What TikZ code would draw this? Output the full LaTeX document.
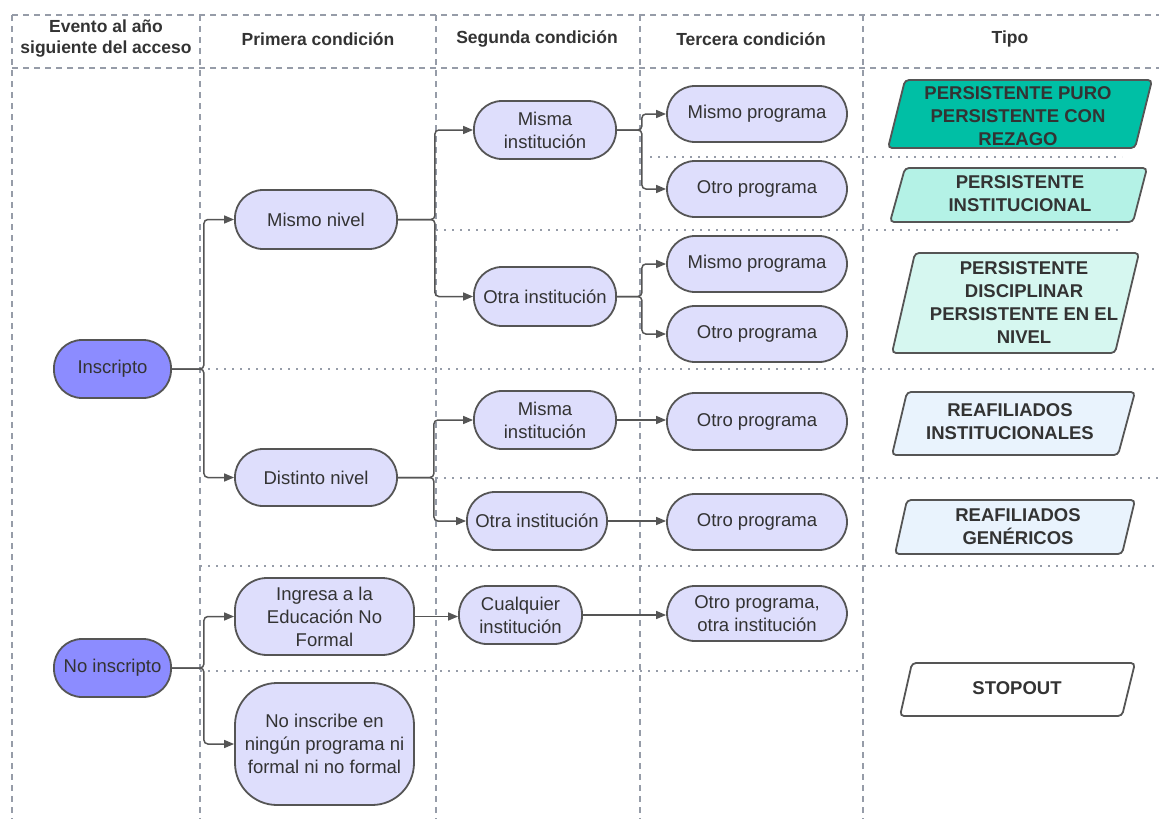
\documentclass[tikz,border=0pt]{standalone}
\usepackage{fontspec}
\setmainfont{Liberation Sans}
\usetikzlibrary{arrows.meta,calc}
\definecolor{edge}{RGB}{85,85,85}
\definecolor{txt}{RGB}{51,51,51}
\definecolor{lav}{RGB}{222,222,252}
\definecolor{strong}{RGB}{140,140,255}
\definecolor{gridc}{RGB}{150,156,168}
\definecolor{tealA}{RGB}{0,191,165}
\definecolor{tealB}{RGB}{180,242,230}
\definecolor{tealC}{RGB}{214,247,240}
\definecolor{blueL}{RGB}{233,243,253}
\begin{document}
\begin{tikzpicture}[x=1pt,y=-1pt,
  box/.style={draw=edge, line width=1.8pt, fill=lav, rounded corners=28pt, align=center,
    inner sep=0pt, text=txt, font=\fontsize{18.5}{23}\selectfont},
  conn/.style={draw=edge, line width=1.5pt, rounded corners=4pt, -{Triangle[length=10pt,width=8pt]}},
  colline/.style={draw=gridc, line width=1.5pt, dash pattern=on 6pt off 5pt},
  rowline/.style={draw=gridc, line width=1.5pt, dash pattern=on 2pt off 6pt},
  hdr/.style={font=\bfseries\fontsize{17.5}{21}\selectfont, text=txt, align=center},
  para/.style={draw=edge, line width=1.8pt, rounded corners=4pt},
  ptext/.style={font=\bfseries\fontsize{18.5}{23}\selectfont, text=txt, align=center}]
\useasboundingbox (0,0) rectangle (1159,819);
% grid
\draw[colline] (12,15) -- (1159,15);
\draw[colline] (12,68) -- (1159,68);
\foreach \x in {12,200,436,640,863} \draw[colline] (\x,15) -- (\x,819);
\draw[rowline] (650,157) -- (1122,157);
\draw[rowline] (436,230) -- (1122,230);
\draw[rowline] (200,369) -- (1159,369);
\draw[rowline] (436,478) -- (1159,478);
\draw[rowline] (200,566) -- (1159,566);
\draw[rowline] (200,671) -- (863,671);
% headers
\node[hdr] (h1) at (106,39) {Evento al año\\siguiente del acceso};
\node[hdr] (h2) at (318,39) {Primera condición};
\node[hdr] (h3) at (537,39) {Segunda condición};
\node[hdr] (h4) at (751,39) {Tercera condición};
\node[hdr] (h5) at (1010,39) {Tipo};
% nodes
\node[box, fill=strong, minimum width=117pt, minimum height=58pt] (insc) at (112.5,369) {Inscripto};
\node[box, fill=strong, minimum width=117pt, minimum height=58pt] (noinsc) at (112.5,668) {No inscripto};
\node[box, minimum width=162pt, minimum height=59pt] (mnivel) at (316,219.5) {Mismo nivel};
\node[box, minimum width=162pt, minimum height=57pt] (dnivel) at (316,477.5) {Distinto nivel};
\node[box, minimum width=179pt, minimum height=77pt, rounded corners=32pt] (ingresa) at (324.5,616.5) {Ingresa a la\\Educación No\\Formal};
\node[box, minimum width=179pt, minimum height=122pt, rounded corners=42pt] (noinscribe) at (324.5,744) {No inscribe en\\ningún programa ni\\formal ni no formal};
\node[box, minimum width=142pt, minimum height=58pt] (misma1) at (545,130) {Misma\\institución};
\node[box, minimum width=142pt, minimum height=59pt] (otra1) at (545,296.5) {Otra institución};
\node[box, minimum width=142pt, minimum height=58pt] (misma2) at (545,420) {Misma\\institución};
\node[box, minimum width=140pt, minimum height=58pt] (otra2) at (537,521) {Otra institución};
\node[box, minimum width=123pt, minimum height=58pt] (cualq) at (520.5,615) {Cualquier\\institución};
\node[box, minimum width=180pt, minimum height=56pt] (mp1) at (757,114) {Mismo programa};
\node[box, minimum width=180pt, minimum height=56pt] (op1) at (757,189) {Otro programa};
\node[box, minimum width=180pt, minimum height=56pt] (mp2) at (757,264) {Mismo programa};
\node[box, minimum width=180pt, minimum height=56pt] (op2) at (757,334) {Otro programa};
\node[box, minimum width=180pt, minimum height=57pt] (op3) at (757,421.5) {Otro programa};
\node[box, minimum width=180pt, minimum height=56pt] (op4) at (757,522) {Otro programa};
\node[box, minimum width=180pt, minimum height=55pt] (opoi) at (757,613.5) {Otro programa,\\otra institución};
% connectors
\draw[conn] (insc.east) -- ++(32,0) |- (mnivel.west);
\draw[conn] (insc.east) -- ++(32,0) |- (dnivel.west);
\draw[conn] (noinsc.east) -- ++(32,0) |- (ingresa.west);
\draw[conn] (noinsc.east) -- ++(32,0) |- (noinscribe.west);
\draw[conn] (mnivel.east) -- ++(37,0) |- (misma1.west);
\draw[conn] (mnivel.east) -- ++(37,0) |- (otra1.west);
\draw[conn] (misma1.east) -- ++(25,0) |- (mp1.west);
\draw[conn] (misma1.east) -- ++(25,0) |- (op1.west);
\draw[conn] (otra1.east) -- ++(25,0) |- (mp2.west);
\draw[conn] (otra1.east) -- ++(25,0) |- (op2.west);
\draw[conn] (dnivel.east) -- ++(36,0) |- (misma2.west);
\draw[conn] (dnivel.east) -- ++(36,0) |- (otra2.west);
\draw[conn] (misma2.east) -- (misma2.east -| op3.west);
\draw[conn] (otra2.east) -- (otra2.east -| op4.west);
\draw[conn] (ingresa.east) -- (ingresa.east -| cualq.west);
\draw[conn] (cualq.east) -- (cualq.east -| opoi.west);
% tipo parallelograms
\draw[para, fill=tealA] (888,148) -- (905,80) -- (1152,80) -- (1135,148) -- cycle;
\node[ptext] (t1) at (1018,116) {PERSISTENTE PURO\\PERSISTENTE CON\\REZAGO};
\draw[para, fill=tealB] (890,222) -- (905,168) -- (1147,168) -- (1133,222) -- cycle;
\node[ptext] (t2) at (1020,194) {PERSISTENTE\\INSTITUCIONAL};
\draw[para, fill=tealC] (892,353) -- (915,253) -- (1139,253) -- (1115,353) -- cycle;
\node[ptext] (t3) at (1024,303) {PERSISTENTE\\DISCIPLINAR\\PERSISTENTE EN EL\\NIVEL};
\draw[para, fill=blueL] (892,455) -- (907,392) -- (1135,392) -- (1118,455) -- cycle;
\node[ptext] (t4) at (1010,422) {REAFILIADOS\\INSTITUCIONALES};
\draw[para, fill=blueL] (895,554) -- (907,500) -- (1135,500) -- (1122,554) -- cycle;
\node[ptext] (t5) at (1018,527) {REAFILIADOS\\GENÉRICOS};
\draw[para, fill=white] (900,716) -- (912,663) -- (1135,663) -- (1122,716) -- cycle;
\node[ptext] (t6) at (1017,688) {STOPOUT};
\end{tikzpicture}
\end{document}
